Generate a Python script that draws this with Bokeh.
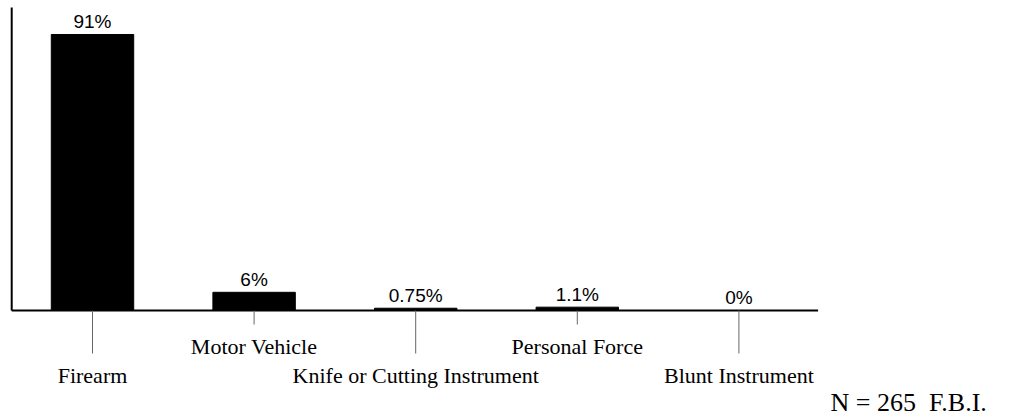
from bokeh.plotting import figure
from bokeh.models import Range1d, Label
from bokeh.embed import file_html
from bokeh.resources import INLINE
from bokeh.core.properties import value

categories = ["Firearm", "Motor Vehicle", "Knife or Cutting Instrument", "Personal Force", "Blunt Instrument"]
percents = [91, 6, 0.75, 1.1, 0]
pct_labels = ["91%", "6%", "0.75%", "1.1%", "0%"]
label_row = [1, 0, 1, 0, 1]  # 0 = upper row, 1 = lower row
note = "N = 265\u00a0\u00a0F.B.I."

W, H = 1009, 416
PX_X = 161.6          # px per category
X0_PX = 92            # px of first category centre
PX_Y = 3.033          # px per percent
BASE_PX = 310         # px of baseline from top
BL_FIX = 7            # renderer's alphabetic-baseline shift

xs = list(range(len(categories)))

p = figure(width=W, height=H, output_backend="svg", toolbar_location=None,
           x_range=Range1d(-X0_PX / PX_X, (W - X0_PX) / PX_X),
           y_range=Range1d(-(H - BASE_PX) / PX_Y, BASE_PX / PX_Y),
           min_border=0, outline_line_color=None)
p.axis.visible = False
p.grid.visible = False
p.background_fill_color = "white"
p.border_fill_color = "white"

# bars
p.vbar(x=xs, top=percents, bottom=0, width=0.51, fill_color="black", line_color="black", line_width=1)

# axes lines
top_val = (BASE_PX - 7) / PX_Y
p.segment(x0=[-0.5], y0=[0], x1=[-0.5], y1=[top_val], line_color="black", line_width=2)
p.segment(x0=[-0.5], y0=[0], x1=[4.49], y1=[0], line_color="black", line_width=2)

# staggered tick lines
tick_len = [43 if r else 14 for r in label_row]
p.segment(x0=xs, y0=[0] * len(xs), x1=xs, y1=[-t / PX_Y for t in tick_len],
          line_color="#666666", line_width=1)

# value labels
p.text(x=xs, y=percents, text=pct_labels, text_align="center", text_baseline="alphabetic",
       y_offset=-6 - BL_FIX, text_font=value("Liberation Sans"), text_font_size="19px",
       text_color="black")

# category labels (two staggered rows)
for row, off in ((0, 43), (1, 72)):
    sx = [x for x, r in zip(xs, label_row) if r == row]
    st = [c for c, r in zip(categories, label_row) if r == row]
    p.text(x=sx, y=[0] * len(sx), text=st, text_align="center",
           text_baseline="alphabetic", y_offset=off - BL_FIX,
           text_font=value("Liberation Serif"), text_font_size="22px", text_color="black")

p.add_layout(Label(x=830, y=7 + BL_FIX, x_units="screen", y_units="screen", text=note,
                   text_font="Liberation Serif", text_font_size="26px", text_color="black",
                   text_baseline="alphabetic"))

open("out.html", "w").write(file_html(p, INLINE))
